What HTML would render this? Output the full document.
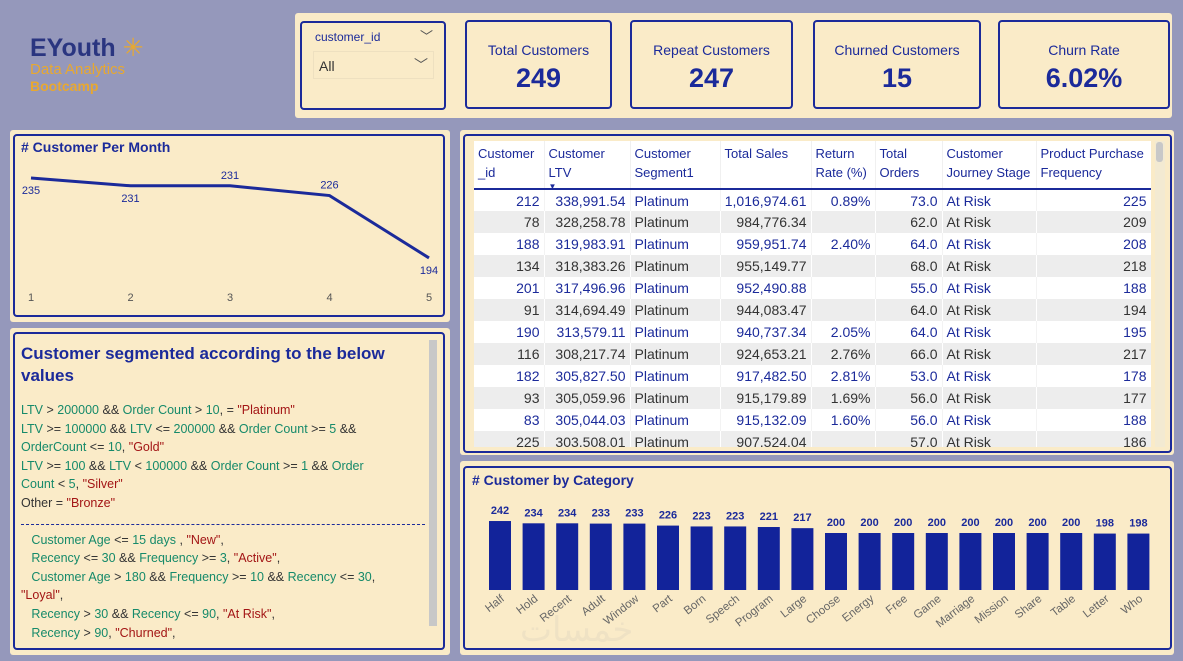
<!DOCTYPE html>
<html><head><meta charset="utf-8"><style>
*{box-sizing:border-box;margin:0;padding:0}
body{width:1183px;height:661px;background:#9598bb;font-family:"Liberation Sans",sans-serif;position:relative;overflow:hidden}
.abs{position:absolute}
.cream{background:#faebc8;border-radius:3px}
.bd{border:2px solid #1b2a9a;border-radius:4px}
.card{position:absolute;top:20px;height:89px;text-align:center;color:#1b2a9a}
.card .t{font-size:14px;margin-top:20px;color:#1b2a9a}
.card .v{font-size:27px;margin-top:5px;font-weight:bold;color:#1b2a9a}
table{border-collapse:collapse;font-size:14px;table-layout:fixed}
.g{color:#168a6a}.r{color:#a31515}.k{color:#333}
.tx div{height:18.6px;white-space:nowrap}
</style></head><body>
<div class="abs" style="left:30px;top:33px">
<div style="font-size:25px;font-weight:bold;color:#2a3580">EYouth <span style="color:#e8a830;font-weight:normal">✳</span></div>
<div style="font-size:15px;color:#e8a830;margin-top:-2px">Data Analytics</div>
<div style="font-size:14px;font-weight:bold;color:#e8a830">Bootcamp</div>
</div>
<div class="abs cream" style="left:295px;top:13px;width:877px;height:105px"></div>
<div class="abs bd" style="left:300px;top:21px;width:146px;height:89px;background:#faebc8">
<div style="position:absolute;left:13px;top:7px;font-size:12px;color:#1b2a9a">customer_id</div>
<div style="position:absolute;left:118px;top:3px;color:#555;font-size:13px">﹀</div>
<div style="position:absolute;left:11px;top:28px;width:121px;height:28px;border:1px solid #eee0c0">
<span style="position:absolute;left:5px;top:6px;font-size:14px;color:#333">All</span>
<span style="position:absolute;left:100px;top:3px;font-size:14px;color:#555">﹀</span></div>
</div>
<div class="card bd" style="left:465px;width:147px"><div class="t">Total Customers</div><div class="v">249</div></div>
<div class="card bd" style="left:630px;width:163px"><div class="t">Repeat Customers</div><div class="v">247</div></div>
<div class="card bd" style="left:813px;width:168px"><div class="t">Churned Customers</div><div class="v">15</div></div>
<div class="card bd" style="left:998px;width:172px"><div class="t">Churn Rate</div><div class="v">6.02%</div></div>

<div class="abs cream" style="left:10px;top:130px;width:440px;height:192px"></div>
<div class="abs bd" style="left:13px;top:134px;width:432px;height:183px"></div>
<div class="abs" style="left:21px;top:139px;font-size:14px;font-weight:bold;color:#1b2a9a"># Customer Per Month</div>
<svg class="abs" id="line" style="left:0;top:0" width="460" height="330"></svg>

<div class="abs cream" style="left:10px;top:328px;width:440px;height:327px"></div>
<div class="abs bd" style="left:13px;top:332px;width:432px;height:318px"></div>
<div class="abs" style="left:429px;top:340px;width:8px;height:286px;background:#c8c8c8"></div>
<div class="abs" style="left:21px;top:343px;width:400px;font-size:17px;font-weight:bold;color:#1b2a9a;line-height:22px">Customer segmented according to the below values</div>
<div class="abs tx" style="left:21px;top:403px;font-size:12.5px">
<div><span class="g">LTV</span> <span class="k">&gt;</span> <span class="g">200000</span> <span class="k">&amp;&amp;</span> <span class="g">Order Count</span> <span class="k">&gt;</span> <span class="g">10</span><span class="k">, =</span> <span class="r">"Platinum"</span></div>
<div><span class="g">LTV</span> <span class="k">&gt;=</span> <span class="g">100000</span> <span class="k">&amp;&amp;</span> <span class="g">LTV</span> <span class="k">&lt;=</span> <span class="g">200000</span> <span class="k">&amp;&amp;</span> <span class="g">Order Count</span> <span class="k">&gt;=</span> <span class="g">5</span> <span class="k">&amp;&amp;</span></div>
<div><span class="g">OrderCount</span> <span class="k">&lt;=</span> <span class="g">10</span><span class="k">,</span> <span class="r">"Gold"</span></div>
<div><span class="g">LTV</span> <span class="k">&gt;=</span> <span class="g">100</span> <span class="k">&amp;&amp;</span> <span class="g">LTV</span> <span class="k">&lt;</span> <span class="g">100000</span> <span class="k">&amp;&amp;</span> <span class="g">Order Count</span> <span class="k">&gt;=</span> <span class="g">1</span> <span class="k">&amp;&amp;</span> <span class="g">Order</span></div>
<div><span class="g">Count</span> <span class="k">&lt;</span> <span class="g">5</span><span class="k">,</span> <span class="r">"Silver"</span></div>
<div><span class="k">Other =</span> <span class="r">"Bronze"</span></div>
<div style="border-top:1px dashed #1b2a9a;width:404px;margin-top:9px;height:9px"></div>
<div>&nbsp;&nbsp;&nbsp;<span class="g">Customer Age</span> <span class="k">&lt;=</span> <span class="g">15 days</span> <span class="k">,</span> <span class="r">"New"</span><span class="k">,</span></div>
<div>&nbsp;&nbsp;&nbsp;<span class="g">Recency</span> <span class="k">&lt;=</span> <span class="g">30</span> <span class="k">&amp;&amp;</span> <span class="g">Frequency</span> <span class="k">&gt;=</span> <span class="g">3</span><span class="k">,</span> <span class="r">"Active"</span><span class="k">,</span></div>
<div>&nbsp;&nbsp;&nbsp;<span class="g">Customer Age</span> <span class="k">&gt;</span> <span class="g">180</span> <span class="k">&amp;&amp;</span> <span class="g">Frequency</span> <span class="k">&gt;=</span> <span class="g">10</span> <span class="k">&amp;&amp;</span> <span class="g">Recency</span> <span class="k">&lt;=</span> <span class="g">30</span><span class="k">,</span></div>
<div><span class="r">"Loyal"</span><span class="k">,</span></div>
<div>&nbsp;&nbsp;&nbsp;<span class="g">Recency</span> <span class="k">&gt;</span> <span class="g">30</span> <span class="k">&amp;&amp;</span> <span class="g">Recency</span> <span class="k">&lt;=</span> <span class="g">90</span><span class="k">,</span> <span class="r">"At Risk"</span><span class="k">,</span></div>
<div>&nbsp;&nbsp;&nbsp;<span class="g">Recency</span> <span class="k">&gt;</span> <span class="g">90</span><span class="k">,</span> <span class="r">"Churned"</span><span class="k">,</span></div>
</div>

<div class="abs cream" style="left:460px;top:130px;width:714px;height:325px"></div>
<div class="abs bd" style="left:463px;top:134px;width:709px;height:319px"></div>
<div class="abs" style="left:1155px;top:141px;width:10px;height:306px;background:#f3ead2"><div style="width:7px;height:20px;background:#c8c8c8;border-radius:3px;margin:1px"></div></div>
<div class="abs" style="left:474px;top:141px;width:677px;height:306px;background:#fff;overflow:hidden">
<table id="tbl" style="width:677px"></table></div>

<div class="abs cream" style="left:460px;top:461px;width:714px;height:194px"></div>
<div class="abs bd" style="left:463px;top:466px;width:709px;height:184px"></div>
<div class="abs" style="left:472px;top:472px;font-size:14px;font-weight:bold;color:#1b2a9a"># Customer by Category</div>
<div class="abs" style="left:520px;top:610px;font-size:34px;color:#efe2c4;font-family:'DejaVu Sans',sans-serif">خمسات</div>
<svg class="abs" id="bar" style="left:0;top:0" width="1183" height="661"></svg>

<script>
var months=["1","2","3","4","5"];
var monthCounts=[235,231,231,226,194];
var labelBelow=[true,true,false,false,true];
var cats=["Half","Hold","Recent","Adult","Window","Part","Born","Speech","Program","Large","Choose","Energy","Free","Game","Marriage","Mission","Share","Table","Letter","Who"];
var catCounts=[242,234,234,233,233,226,223,223,221,217,200,200,200,200,200,200,200,200,198,198];
var ids=[212,78,188,134,201,91,190,116,182,93,83,225];
var ltv=["338,991.54","328,258.78","319,983.91","318,383.26","317,496.96","314,694.49","313,579.11","308,217.74","305,827.50","305,059.96","305,044.03","303,508.01"];
var sales=["1,016,974.61","984,776.34","959,951.74","955,149.77","952,490.88","944,083.47","940,737.34","924,653.21","917,482.50","915,179.89","915,132.09","907,524.04"];
var rr=["0.89%","","2.40%","","","","2.05%","2.76%","2.81%","1.69%","1.60%",""];
var orders=["73.0","62.0","64.0","68.0","55.0","64.0","64.0","66.0","53.0","56.0","56.0","57.0"];
var freq=[225,209,208,218,188,194,195,217,178,177,188,186];
var NS="http://www.w3.org/2000/svg";
function mk(p,t,a){var e=document.createElementNS(NS,t);for(var k in a)e.setAttribute(k,a[k]);p.appendChild(e);return e;}
var L=document.getElementById('line');
function lx(i){return 31+i*99.5;}
function ly(v){return 178+(235-v)*1.95;}
var pts=monthCounts.map(function(v,i){return lx(i)+","+ly(v);}).join(" ");
var pl=mk(L,'polyline',{points:pts,fill:'none',stroke:'#1b2a9a','stroke-width':3});


monthCounts.forEach(function(v,i){
 var t=mk(L,'text',{x:lx(i),y:labelBelow[i]?ly(v)+16:ly(v)-7,'text-anchor':'middle','font-size':11,fill:'#1b2a9a'});t.textContent=v;
 
 
 var a=mk(L,'text',{x:lx(i),y:301,'text-anchor':'middle','font-size':11,fill:'#555'});a.textContent=months[i];
 
 
});
var B=document.getElementById('bar');
function bx(i){return 489+i*33.6;}
function bh(v){return v*0.285;}
var base=590;
catCounts.forEach(function(v,i){
 var r=mk(B,'rect',{x:bx(i),y:base-bh(v),width:22,height:bh(v),fill:'#12239a'});
 
 
 var t=mk(B,'text',{x:bx(i)+11,y:base-bh(v)-7,'text-anchor':'middle','font-size':11,'font-weight':'bold',fill:'#1b2a9a'});t.textContent=v;
 
 
 var c=mk(B,'text',{x:bx(i)+16,y:600,'text-anchor':'end','font-size':11.5,fill:'#666',transform:'rotate(-38 '+(bx(i)+16)+' 600)'});c.textContent=cats[i];
 
 
});
var T=document.getElementById('tbl');
var widths=[70,86,90,91,64,67,94,115];
var heads=["Customer<br>_id","Customer<br>LTV","Customer<br>Segment1","Total Sales","Return<br>Rate (%)","Total<br>Orders","Customer<br>Journey Stage","Product Purchase<br>Frequency"];
var hr=document.createElement('tr');


heads.forEach(function(h,i){var th=document.createElement('th');th.style.cssText='width:'+widths[i]+'px;height:48px;vertical-align:top;text-align:left;font-weight:normal;font-size:13px;white-space:nowrap;overflow:hidden;color:#1b2a9a;padding:3px 4px;line-height:19px;border-bottom:2px solid #1b2a9a;border-right:1px solid #f0f0f0;position:relative';th.innerHTML=h;if(i==1)th.innerHTML+='<span style="position:absolute;left:4px;top:36px;font-size:8px">▼</span>';


hr.appendChild(th);});
T.appendChild(hr);
ids.forEach(function(id,r){
 var tr=document.createElement('tr');
 
 
 var odd=r%2==0;tr.style.background=odd?'#fff':'#ededed';tr.style.color=odd?'#1b2a9a':'#333';
 var cells=[id,ltv[r],"Platinum",sales[r],rr[r],orders[r],"At Risk",freq[r]];
 cells.forEach(function(c,i){var td=document.createElement('td');td.textContent=c;td.style.cssText='height:22px;padding:0 4px;white-space:nowrap;overflow:hidden;text-align:'+((i==2||i==6)?'left':'right')+';border-right:1px solid '+(odd?'#f3f3f3':'#fff');tr.appendChild(td);});
 T.appendChild(tr);
});
</script>
</body></html>
